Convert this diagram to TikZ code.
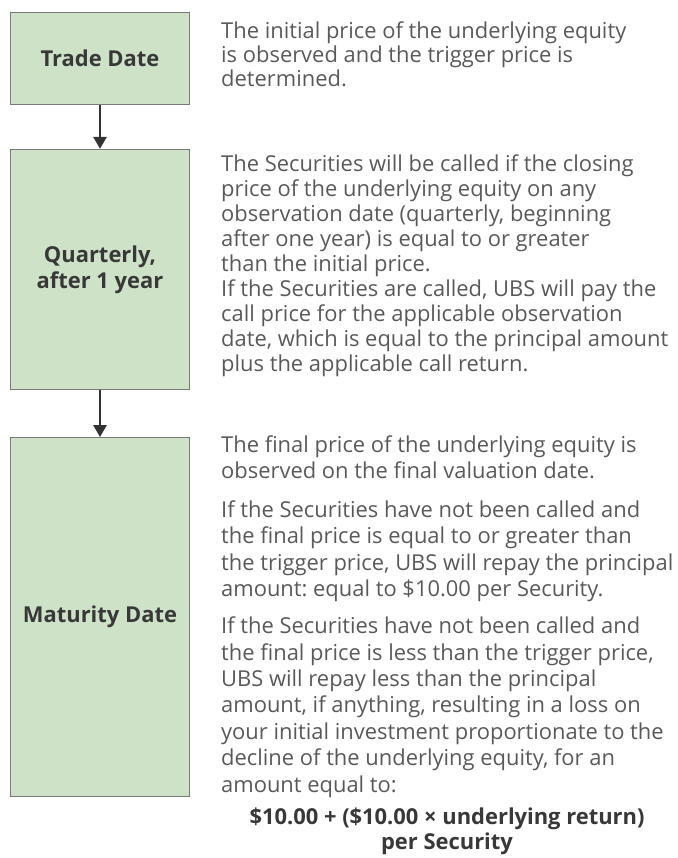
\documentclass[tikz,border=0pt]{standalone}
\usepackage{fontspec}
\setmainfont{Open Sans}
\usepackage{xcolor}
\usepackage{tikz}
\usetikzlibrary{arrows.meta,positioning}
\definecolor{evFill}{HTML}{CDE2C6}
\definecolor{evEdge}{HTML}{7A7A7A}
\definecolor{evLabel}{HTML}{383838}
\definecolor{evBody}{HTML}{595959}
\definecolor{evArrow}{HTML}{333333}
\tikzset{
  evbox/.style={draw=evEdge,line width=1.2pt,fill=evFill,text=evLabel,minimum width=180,
                align=center,inner sep=2pt,font=\fontsize{22}{26}\selectfont\bfseries},
  evtext/.style={anchor=base west,align=left,inner sep=0pt,text=evBody,
                 font=\fontsize{22}{25}\selectfont},
  evtexttight/.style={evtext,font=\fontsize{22}{24}\selectfont},
  evtextwide/.style={evtext,font=\fontsize{22}{26.5}\selectfont},
  evformula/.style={anchor=base,align=center,inner sep=0pt,text=evLabel,
                    font=\fontsize{22}{25}\selectfont\bfseries},
  evflow/.style={-{Triangle[length=12pt,width=13pt]},draw=evArrow,line width=2.6pt},
}
\frenchspacing
\begin{document}
\begin{tikzpicture}[x=1bp,y=1bp]
  \useasboundingbox (0,0) rectangle (678,-858);

  \node[evbox,minimum height=93] (trade) at (100,-58.5) {Trade Date};
  \node[evbox,minimum height=241] (quarterly) at (100,-269.5) {Quarterly,\\after 1 year};
  \node[evbox,minimum height=360] (maturity) at (100,-617) {Maturity Date};

  \draw[evflow] (trade)--(quarterly);
  \draw[evflow] (quarterly)--(maturity);

  % base = last line of each block
  \node[evtexttight] (tradetxt) at (221,-86)
    {The initial price of the underlying equity\\
     is observed and the trigger price is\\
     determined.};
  \node[evtext] (quarterlytxt) at (221,-371)
    {The Securities will be called if the closing\\
     price of the underlying equity on any\\
     observation date (quarterly, beginning\\
     after one year) is equal to or greater\\
     than the initial price.\\
     If the Securities are called, UBS will pay the\\
     call price for the applicable observation\\
     date, which is equal to the principal amount\\
     plus the applicable call return.};
  \node[evtextwide] (finaltxt) at (221,-478.5)
    {The final price of the underlying equity is\\
     observed on the final valuation date.};
  \node[evtextwide] (abovetxt) at (221,-596.5)
    {If the Securities have not been called and\\
     the final price is equal to or greater than\\
     the trigger price, UBS will repay the principal\\
     amount: equal to \$10.00 per Security.};
  \node[evtextwide] (belowtxt) at (221,-792)
    {If the Securities have not been called and\\
     the final price is less than the trigger price,\\
     UBS will repay less than the principal\\
     amount, if anything, resulting in a loss on\\
     your initial investment proportionate to the\\
     decline of the underlying equity, for an\\
     amount equal to:};
  \node[evformula] (formula) at (447,-849)
    {\$10.00 + (\$10.00 × underlying return)\\per Security};
\end{tikzpicture}
\end{document}
